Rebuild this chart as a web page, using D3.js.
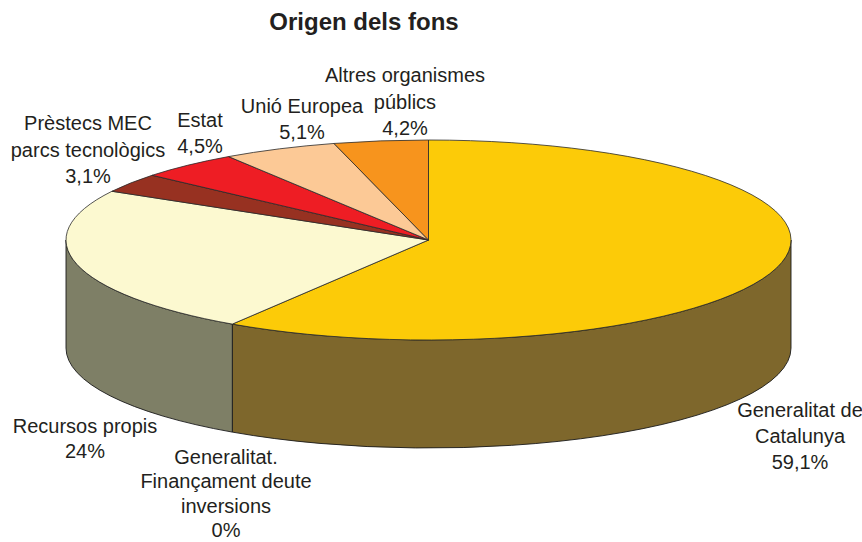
<!DOCTYPE html>
<html>
<head>
<meta charset="utf-8">
<script src="https://cdn.jsdelivr.net/npm/d3@7"></script>
<style>
  html, body { margin: 0; padding: 0; background: #ffffff; }
  svg { display: block; }
</style>
</head>
<body>
<svg id="chart" width="862" height="542"></svg>
<script>
// ---- Data ----
const categories = [
  "Generalitat de Catalunya",
  "Generalitat. Finançament deute inversions",
  "Recursos propis",
  "Prèstecs MEC parcs tecnològics",
  "Estat",
  "Unió Europea",
  "Altres organismes públics"
];
const values = [59.1, 0, 24, 3.1, 4.5, 5.1, 4.2];
const valueLabels = ["59,1%", "0%", "24%", "3,1%", "4,5%", "5,1%", "4,2%"];
const labelLines = [
  ["Generalitat de", "Catalunya"],
  ["Generalitat.", "Finançament deute", "inversions"],
  ["Recursos propis"],
  ["Prèstecs MEC", "parcs tecnològics"],
  ["Estat"],
  ["Unió Europea"],
  ["Altres organismes", "públics"]
];
const title = "Origen dels fons";

// ---- Styling / layout ----
const topColors  = ["#FCCB08", "#FCCB08", "#FCF9D0", "#973121", "#EE1D24", "#FCC996", "#F7941D"];
const sideColors = ["#7E672C", "#7E672C", "#7E7F66", "#4C1810", "#771012", "#7E644B", "#7C4A0E"];
const labelLayout = [
  { x: 800, y: 417, dy: 26 },
  { x: 226, y: 464, dy: 24.4 },
  { x: 85,  y: 433, dy: 25 },
  { x: 88,  y: 130, dy: 26.5 },
  { x: 200, y: 127, dy: 26 },
  { x: 302, y: 113, dy: 26 },
  { x: 405, y: 82,  dy: 26.5 }
];
const geo = { cx: 428.5, cy: 240, rx: 362.5, ry: 100, depth: 108 };

const svg = d3.select("#chart");

const pie = d3.pie().sort(null).value(d => d.v).startAngle(0).endAngle(2 * Math.PI);
const arcs = pie(values.map((v, i) => ({ v, i })));

// angle -> point on the ellipse (0 = top, clockwise)
const px = (a, dz = 0) => [geo.cx + geo.rx * Math.sin(a), geo.cy - geo.ry * Math.cos(a) + dz];

function topPath(a0, a1) {
  const p0 = px(a0), p1 = px(a1);
  const large = (a1 - a0) > Math.PI ? 1 : 0;
  return `M${geo.cx},${geo.cy}L${p0[0]},${p0[1]}A${geo.rx},${geo.ry} 0 ${large} 1 ${p1[0]},${p1[1]}Z`;
}
function sidePath(a0, a1) {
  const p0 = px(a0), p1 = px(a1);
  const q0 = px(a0, geo.depth), q1 = px(a1, geo.depth);
  const large = (a1 - a0) > Math.PI ? 1 : 0;
  return `M${p0[0]},${p0[1]}A${geo.rx},${geo.ry} 0 ${large} 1 ${p1[0]},${p1[1]}` +
         `L${q1[0]},${q1[1]}A${geo.rx},${geo.ry} 0 ${large} 0 ${q0[0]},${q0[1]}Z`;
}

const gSide = svg.append("g");
const gTop = svg.append("g");

// sides (front half only: angles between PI/2 and 3PI/2)
arcs.forEach(d => {
  const a0 = Math.max(d.startAngle, Math.PI / 2);
  const a1 = Math.min(d.endAngle, 3 * Math.PI / 2);
  if (a1 - a0 > 1e-6) {
    gSide.append("path")
      .attr("d", sidePath(a0, a1))
      .attr("fill", sideColors[d.data.i])
      .attr("stroke", "#1a1a1a")
      .attr("stroke-width", 0.9)
      .attr("stroke-linejoin", "round");
  }
});

// tops
arcs.forEach(d => {
  if (d.endAngle - d.startAngle < 1e-6) return;
  gTop.append("path")
    .attr("d", topPath(d.startAngle, d.endAngle))
    .attr("fill", topColors[d.data.i])
    .attr("stroke", "#2a2a2a")
    .attr("stroke-width", 0.8)
    .attr("stroke-linejoin", "round");
});

// title
svg.append("text")
  .attr("x", 364).attr("y", 30)
  .attr("text-anchor", "middle")
  .attr("font-family", "'Liberation Sans', Arial, sans-serif")
  .attr("font-weight", "bold")
  .attr("font-size", 24)
  .attr("fill", "#231f20")
  .text(title);

// labels
const gLab = svg.append("g")
  .attr("font-family", "'Liberation Sans', Arial, sans-serif")
  .attr("font-size", 20)
  .attr("fill", "#231f20")
  .attr("text-anchor", "middle");

categories.forEach((c, i) => {
  const L = labelLayout[i];
  const lines = labelLines[i].concat([valueLabels[i]]);
  const t = gLab.append("text").attr("x", L.x).attr("y", L.y);
  lines.forEach((ln, k) => {
    t.append("tspan").attr("x", L.x).attr("y", L.y + k * L.dy).text(ln);
  });
});
</script>
</body>
</html>
